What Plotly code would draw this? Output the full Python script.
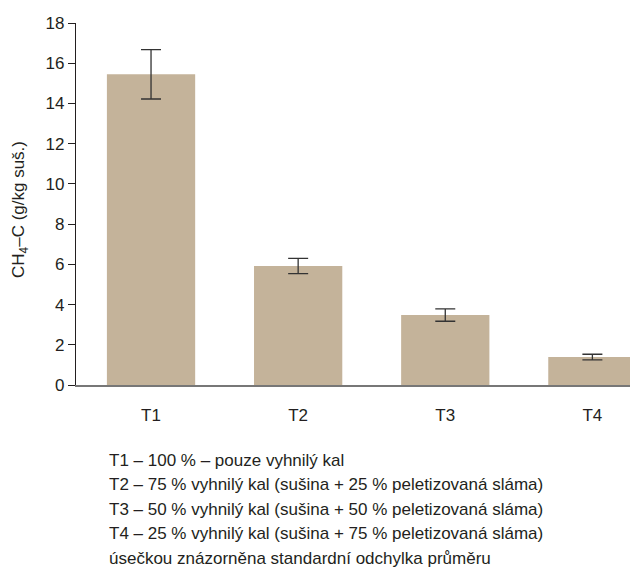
import plotly.graph_objects as go

categories = ["T1", "T2", "T3", "T4"]
values = [15.45, 5.92, 3.48, 1.39]
errors = [1.23, 0.38, 0.31, 0.14]
y_ticks = [0, 2, 4, 6, 8, 10, 12, 14, 16, 18]
notes = [
    "T1 – 100 % – pouze vyhnilý kal",
    "T2 – 75 % vyhnilý kal (sušina + 25 % peletizovaná sláma)",
    "T3 – 50 % vyhnilý kal (sušina + 50 % peletizovaná sláma)",
    "T4 – 25 % vyhnilý kal (sušina + 75 % peletizovaná sláma)",
    "úsečkou znázorněna standardní odchylka průměru",
]

FONT = "Liberation Sans, Arial, sans-serif"

fig = go.Figure()
fig.add_trace(go.Bar(
    x=categories, y=values,
    marker=dict(color="#c4b39a", line=dict(width=0)),
    error_y=dict(type="data", array=errors, visible=True,
                 color="#333333", thickness=1.3, width=10),
    width=0.6,
))

annotations = []
for i, t in enumerate(notes):
    annotations.append(dict(
        text=t, xref="paper", yref="paper",
        x=(107 - 76) / 562, y=(385 - (460 + i * 24.5)) / 362,
        xanchor="left", yanchor="middle", showarrow=False,
        font=dict(family=FONT, size=17, color="#231f20"),
    ))
annotations.append(dict(
    text="CH<sub>4</sub>–C (g/kg suš.)", xref="paper", yref="paper",
    x=(20 - 76) / 562, y=(385 - 210) / 362, textangle=-90,
    xanchor="center", yanchor="middle", showarrow=False,
    font=dict(family=FONT, size=17, color="#231f20"),
))

fig.update_layout(
    width=630, height=564,
    margin=dict(l=68, r=0, t=15, b=187),
    paper_bgcolor="white", plot_bgcolor="white",
    showlegend=False,
    font=dict(family=FONT, size=17, color="#231f20"),
    annotations=annotations,
    xaxis=dict(
        range=[-0.51, 3.31], showline=True, linecolor="#777777", linewidth=1.5,
        ticks="", showgrid=False, zeroline=False,
        tickfont=dict(family=FONT, size=17, color="#231f20"),
        ticklabelstandoff=14,
    ),
    yaxis=dict(
        range=[0, 18], tickvals=y_ticks, showline=True, linecolor="#231f20",
        linewidth=1.2, ticks="outside", ticklen=7, tickcolor="#231f20",
        showgrid=False, zeroline=False,
        tickfont=dict(family=FONT, size=17, color="#231f20"),
    ),
)

fig.write_html("out.html")
